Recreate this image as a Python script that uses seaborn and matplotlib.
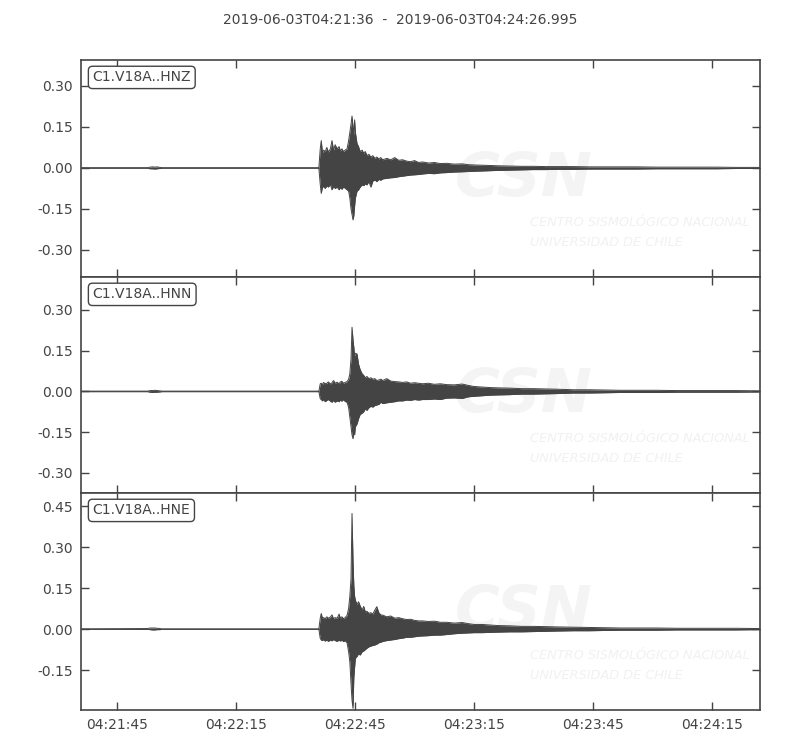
import matplotlib
matplotlib.use("Agg")
import matplotlib.pyplot as plt
import seaborn as sns
import numpy as np
import pandas as pd

sns.set_theme(style="white")
plt.rcParams['font.family'] = ['DejaVu Sans']

title = "2019-06-03T04:21:36  -  2019-06-03T04:24:26.995"
channels = ["C1.V18A..HNZ", "C1.V18A..HNN", "C1.V18A..HNE"]
xtick_secs = [9, 39, 69, 99, 129, 159]
xtick_labels = ["04:21:45", "04:22:15", "04:22:45", "04:23:15", "04:23:45", "04:24:15"]
yticks_z = [-0.30, -0.15, 0.00, 0.15, 0.30]
yticks_n = [-0.30, -0.15, 0.00, 0.15, 0.30]
yticks_e = [-0.15, 0.00, 0.15, 0.30, 0.45]
ylims = [(-0.399, 0.395), (-0.374, 0.421), (-0.296, 0.498)]

# seconds after 04:21:36
t_sec = [0, 16.8, 17.4, 18.0, 18.6, 19.2, 19.8, 20.4, 59.9,
         60.25, 60.5, 60.8, 61.1, 61.5, 61.9, 62.3, 62.8, 63.2, 63.6,
         64.0, 64.5, 65.0, 65.3, 65.7, 66.1, 66.5, 67.0, 67.4, 67.7,
         68.0, 68.25, 68.5, 68.7, 68.9, 69.1, 69.5, 69.9, 70.3, 70.8,
         71.2, 71.6, 72.0, 72.5, 73.0, 73.5, 74.0, 74.5, 75.0, 75.5, 76.0, 77.0, 78.0, 79.0, 80.0,
         81, 82, 83, 84, 85, 86, 87.5, 89, 90.5, 92, 94, 96, 97.5, 99,
         101, 103, 105, 108, 111, 114, 117, 120, 124, 128, 132, 136, 140, 145, 150, 155, 160, 165, 171]

# envelope (max / min per time bin) of each component
z_upper = [0.001, 0.001, 0.003, 0.004, 0.003, 0.004, 0.002, 0.001, 0.001,
           0.07, 0.100, 0.055, 0.065, 0.06, 0.075, 0.058, 0.07, 0.100, 0.065,
           0.085, 0.07, 0.078, 0.062, 0.07, 0.06, 0.065, 0.07, 0.10, 0.13,
           0.16, 0.19, 0.15, 0.12, 0.176, 0.13, 0.09, 0.078, 0.06, 0.065,
           0.054, 0.06, 0.045, 0.05, 0.04, 0.045, 0.035, 0.04, 0.033, 0.038, 0.03, 0.035, 0.03, 0.038, 0.028,
           0.03, 0.025, 0.023, 0.027, 0.02, 0.022, 0.018, 0.02, 0.016, 0.017, 0.014, 0.015, 0.012, 0.011,
           0.01, 0.009, 0.008, 0.007, 0.006, 0.006, 0.005, 0.005, 0.005, 0.004, 0.004, 0.004, 0.004, 0.003, 0.003, 0.003, 0.003, 0.002, 0.002]
z_lower = [-0.001, -0.001, -0.003, -0.003, -0.004, -0.003, -0.002, -0.001, -0.001,
           -0.06, -0.093, -0.07, -0.068, -0.075, -0.065, -0.07, -0.06, -0.08, -0.068,
           -0.075, -0.07, -0.08, -0.072, -0.078, -0.07, -0.074, -0.08, -0.085, -0.11,
           -0.15, -0.17, -0.19, -0.175, -0.14, -0.11, -0.085, -0.08, -0.07, -0.062,
           -0.065, -0.058, -0.062, -0.05, -0.07, -0.048, -0.044, -0.05, -0.042, -0.045, -0.04, -0.038, -0.036, -0.035, -0.032,
           -0.03, -0.028, -0.026, -0.025, -0.024, -0.022, -0.02, -0.021, -0.018, -0.017, -0.015, -0.014, -0.013, -0.012,
           -0.011, -0.01, -0.009, -0.008, -0.007, -0.006, -0.006, -0.005, -0.005, -0.004, -0.004, -0.004, -0.004, -0.003, -0.003, -0.003, -0.003, -0.002, -0.002]

n_upper = [0.001, 0.001, 0.003, 0.003, 0.004, 0.003, 0.002, 0.001, 0.001,
           0.028, 0.03, 0.025, 0.033, 0.028, 0.03, 0.035, 0.027, 0.032, 0.04,
           0.03, 0.034, 0.028, 0.035, 0.037, 0.03, 0.033, 0.036, 0.045, 0.065,
           0.12, 0.236, 0.19, 0.163, 0.13, 0.14, 0.138, 0.10, 0.08, 0.065,
           0.059, 0.05, 0.055, 0.047, 0.05, 0.045, 0.047, 0.04, 0.042, 0.045, 0.04, 0.047, 0.038, 0.036, 0.035,
           0.033, 0.035, 0.03, 0.032, 0.03, 0.028, 0.03, 0.026, 0.028, 0.025, 0.024, 0.027, 0.022, 0.018,
           0.016, 0.014, 0.013, 0.012, 0.01, 0.01, 0.009, 0.008, 0.006, 0.006, 0.005, 0.004, 0.004, 0.004, 0.003, 0.003, 0.003, 0.003, 0.002]
n_lower = [-0.001, -0.001, -0.003, -0.004, -0.003, -0.003, -0.002, -0.001, -0.001,
           -0.027, -0.03, -0.035, -0.03, -0.038, -0.033, -0.03, -0.036, -0.04, -0.033,
           -0.04, -0.035, -0.038, -0.032, -0.036, -0.03, -0.037, -0.04, -0.06, -0.095,
           -0.13, -0.16, -0.174, -0.15, -0.16, -0.13, -0.12, -0.1, -0.085, -0.08,
           -0.075, -0.064, -0.07, -0.06, -0.055, -0.058, -0.052, -0.05, -0.048, -0.04, -0.045, -0.042, -0.04, -0.038, -0.035,
           -0.035, -0.032, -0.033, -0.03, -0.032, -0.03, -0.03, -0.028, -0.03, -0.025, -0.024, -0.026, -0.02, -0.018,
           -0.016, -0.014, -0.013, -0.012, -0.01, -0.01, -0.009, -0.008, -0.006, -0.006, -0.005, -0.004, -0.004, -0.004, -0.003, -0.003, -0.003, -0.003, -0.002]

e_upper = [0.001, 0.002, 0.004, 0.004, 0.004, 0.003, 0.002, 0.001, 0.001,
           0.04, 0.057, 0.04, 0.042, 0.038, 0.045, 0.04, 0.044, 0.052, 0.038,
           0.042, 0.04, 0.055, 0.04, 0.045, 0.038, 0.042, 0.05, 0.076, 0.12,
           0.185, 0.423, 0.25, 0.161, 0.12, 0.106, 0.09, 0.1, 0.085, 0.07,
           0.083, 0.063, 0.065, 0.058, 0.06, 0.055, 0.07, 0.082, 0.06, 0.052, 0.051, 0.045, 0.048, 0.04, 0.042,
           0.038, 0.035, 0.036, 0.032, 0.03, 0.03, 0.028, 0.029, 0.025, 0.025, 0.022, 0.024, 0.02, 0.017,
           0.017, 0.015, 0.013, 0.012, 0.01, 0.01, 0.009, 0.008, 0.007, 0.006, 0.005, 0.004, 0.004, 0.004, 0.003, 0.003, 0.003, 0.003, 0.002]
e_lower = [-0.001, -0.001, -0.002, -0.003, -0.003, -0.002, -0.002, -0.001, -0.001,
           -0.034, -0.04, -0.042, -0.038, -0.044, -0.04, -0.045, -0.04, -0.043, -0.038,
           -0.042, -0.045, -0.04, -0.044, -0.04, -0.046, -0.042, -0.05, -0.083, -0.12,
           -0.2, -0.26, -0.29, -0.18, -0.14, -0.107, -0.1, -0.09, -0.095, -0.083,
           -0.08, -0.075, -0.07, -0.065, -0.062, -0.06, -0.058, -0.055, -0.05, -0.048, -0.045, -0.042, -0.04, -0.038, -0.035,
           -0.033, -0.03, -0.03, -0.028, -0.026, -0.025, -0.024, -0.022, -0.022, -0.02, -0.017, -0.015, -0.014, -0.013,
           -0.013, -0.012, -0.011, -0.01, -0.01, -0.009, -0.008, -0.007, -0.006, -0.006, -0.005, -0.004, -0.004, -0.004, -0.003, -0.003, -0.003, -0.003, -0.002]

uppers = [z_upper, n_upper, e_upper]
lowers = [z_lower, n_lower, e_lower]
yticks_all = [yticks_z, yticks_n, yticks_e]

trace_color = "#444444"
text_color = "#444444"

fig = plt.figure(figsize=(8, 7.5), dpi=100)
fig.patch.set_facecolor("white")
left, right = 81 / 800, 760 / 800
edges_px = [60, 277, 493, 710]
axes = []
for i in range(3):
    top = 1 - edges_px[i] / 750
    bot = 1 - edges_px[i + 1] / 750
    ax = fig.add_axes([left, bot, right - left, top - bot])
    axes.append(ax)

for i, ax in enumerate(axes):
    df = pd.DataFrame({"t": t_sec, "hi": uppers[i], "lo": lowers[i]})
    # faint watermark
    ax.text(0.55, 0.45, "CSN", transform=ax.transAxes, fontsize=44, fontweight="bold",
            fontstyle="italic", color="#f4f4f4", ha="left", va="center", zorder=0, clip_on=True)
    ax.text(0.662, 0.25, "CENTRO SISMOLÓGICO NACIONAL", transform=ax.transAxes, fontsize=9.3,
            fontstyle="italic", color="#f1f1f1", ha="left", va="center", zorder=0, clip_on=True)
    ax.text(0.662, 0.16, "UNIVERSIDAD DE CHILE", transform=ax.transAxes, fontsize=9.3,
            fontstyle="italic", color="#f1f1f1", ha="left", va="center", zorder=0, clip_on=True)
    ax.fill_between(df["t"], df["lo"], df["hi"], color=trace_color, linewidth=0, zorder=2)
    sns.lineplot(data=df, x="t", y="hi", ax=ax, color=trace_color, linewidth=0.7, zorder=3)
    sns.lineplot(data=df, x="t", y="lo", ax=ax, color=trace_color, linewidth=0.7, zorder=3)
    ax.set_xlim(0, 170.995)
    ax.set_ylim(*ylims[i])
    ax.set_yticks(yticks_all[i])
    ax.set_yticklabels([f"{v:.2f}" for v in yticks_all[i]])
    ax.set_xticks(xtick_secs)
    if i == 2:
        ax.set_xticklabels(xtick_labels)
    else:
        ax.set_xticklabels([])
    ax.set_xlabel("")
    ax.set_ylabel("")
    ax.tick_params(direction="in", length=6, width=1, colors=text_color, labelsize=10,
                   top=True, right=True, left=True, bottom=True, pad=6)
    for sp in ax.spines.values():
        sp.set_color(text_color)
        sp.set_linewidth(1.2)
    ax.text(0.017, 0.952, channels[i], transform=ax.transAxes, fontsize=10, color=text_color,
            ha="left", va="top", zorder=5,
            bbox=dict(boxstyle="round,pad=0.3", facecolor="white", edgecolor=text_color, linewidth=1))

fig.text(0.5, 1 - 20 / 750, title, ha="center", va="center", fontsize=10, color=text_color)
fig.savefig("out.png", dpi=100, facecolor="white")
